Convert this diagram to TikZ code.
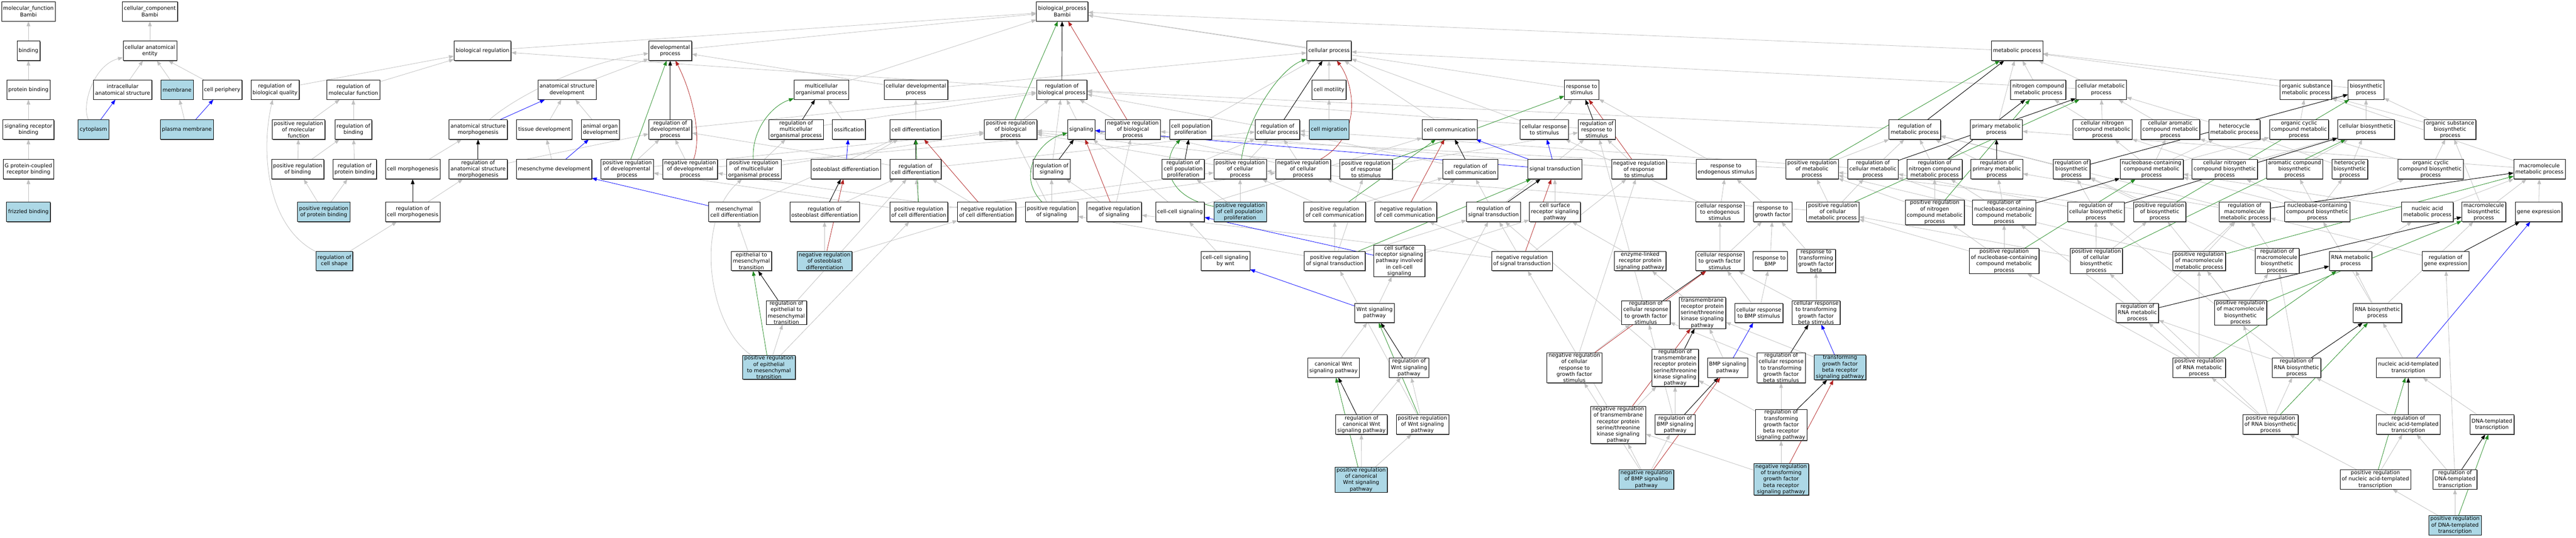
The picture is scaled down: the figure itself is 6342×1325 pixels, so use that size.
\documentclass[tikz,border=0pt]{standalone}
\usepackage{fontspec}
\newfontfamily\gofont{DejaVu Sans}
\usetikzlibrary{arrows.meta,backgrounds,shadows}
\definecolor{isagray}{HTML}{C0C0C0}
\definecolor{partblue}{HTML}{0000FF}
\definecolor{posgreen}{HTML}{228B22}
\definecolor{negred}{HTML}{B22222}
\definecolor{hitblue}{HTML}{ADD8E6}
\begin{document}
\begin{tikzpicture}[x=1bp,y=-1bp,>={Triangle[length=12bp,width=9bp]},
    box/.style={draw=black,line width=1bp,fill=white,align=center,inner xsep=4bp,inner ysep=1bp,
        minimum height=48bp,font=\gofont\fontsize{13.05}{15.6}\selectfont,
        drop shadow={shadow xshift=1.5bp,shadow yshift=-1.5bp,fill=black!65,opacity=1}},
    hit/.style={box,fill=hitblue},
    isa/.style={->,draw=isagray,line width=1bp},
    partof/.style={->,draw=partblue,line width=1bp},
    regul/.style={->,draw=black,line width=1.2bp},
    posreg/.style={->,draw=posgreen,line width=1bp},
    negreg/.style={->,draw=negred,line width=1bp}]
        \useasboundingbox (0,0) rectangle (6342,1325);
        % molecular function
        \node[box] (mf) at (70,28) {molecular\_function\\Bambi};
        \node[box] (bind) at (70,125) {binding};
        \node[box] (pbind) at (70,221) {protein binding};
        \node[box] (srbind) at (70,319) {signaling receptor\\binding};
        \node[box] (gpcrb) at (70,417) {G protein-coupled\\receptor binding};
        \node[hit] (fzb) at (70,522) {frizzled binding};
        % cellular component
        \node[box] (cc) at (369,28) {cellular\_component\\Bambi};
        \node[box] (cae) at (369,125) {cellular anatomical\\entity};
        \node[box] (ias) at (302,221) {intracellular\\anatomical structure};
        \node[hit] (mem) at (436,221) {membrane};
        \node[box] (cper) at (547,221) {cell periphery};
        \node[hit] (cyto) at (230,319) {cytoplasm};
        \node[hit] (pmem) at (460,319) {plasma membrane};
        % biological process, left part
        \node[box] (bp) at (2615,28) {biological\_process\\Bambi};
        \node[box] (breg) at (1188,125) {biological regulation};
        \node[box] (dev) at (1650,125) {developmental\\process};
        \node[box] (rbq) at (677,221) {regulation of\\biological quality};
        \node[box] (rmf) at (870,221) {regulation of\\molecular function};
        \node[box] (asd) at (1396,221) {anatomical structure\\development};
        \node[box] (mop) at (2022,221) {multicellular\\organismal process};
        \node[box] (cdp) at (2255,221) {cellular developmental\\process};
        \node[box] (rbp) at (2614,221) {regulation of\\biological process};
        \node[box] (prmf) at (735,319) {positive regulation\\of molecular\\function};
        \node[box] (rbind) at (870,319) {regulation of\\binding};
        \node[box] (asm) at (1177,319) {anatomical structure\\morphogenesis};
        \node[box] (tisd) at (1340,319) {tissue development};
        \node[box] (aod) at (1478,319) {animal organ\\development};
        \node[box] (rdev) at (1650,319) {regulation of\\developmental\\process};
        \node[box] (rmop) at (1960,319) {regulation of\\multicellular\\organismal process};
        \node[box] (ossif) at (2090,319) {ossification};
        \node[box] (cdiff) at (2254,319) {cell differentiation};
        \node[box] (prbp) at (2488,319) {positive regulation\\of biological\\process};
        \node[box] (sig) at (2662,319) {signaling};
        \node[box] (nrbp) at (2789,319) {negative regulation\\of biological\\process};
        \node[box] (cpp) at (2931,319) {cell population\\proliferation};
        \node[box] (prbind) at (733,417) {positive regulation\\of binding};
        \node[box] (rpbind) at (873,417) {regulation of\\protein binding};
        \node[box] (cmorph) at (1016,417) {cell morphogenesis};
        \node[box] (rasm) at (1177,417) {regulation of\\anatomical structure\\morphogenesis};
        \node[box] (mesd) at (1364,417) {mesenchyme development};
        \node[box] (prdev) at (1544,417) {positive regulation\\of developmental\\process};
        \node[box] (nrdev) at (1699,417) {negative regulation\\of developmental\\process};
        \node[box] (prmop) at (1856,417) {positive regulation\\of multicellular\\organismal process};
        \node[box] (obd) at (2082,417) {osteoblast differentiation};
        \node[box] (rcdiff) at (2254,417) {regulation of\\cell differentiation};
        \node[box] (rsig) at (2589,417) {regulation of\\signaling};
        \node[box] (rcpp) at (2913,417) {regulation of\\cell population\\proliferation};
        \node[hit] (prpbind) at (797,522) {positive regulation\\of protein binding};
        \node[box] (rcmorph) at (1016,522) {regulation of\\cell morphogenesis};
        \node[box] (mcd) at (1808,522) {mesenchymal\\cell differentiation};
        \node[box] (robd) at (2030,522) {regulation of\\osteoblast differentiation};
        \node[box] (prcdiff) at (2262,522) {positive regulation\\of cell differentiation};
        \node[box] (nrcdiff) at (2429,522) {negative regulation\\of cell differentiation};
        \node[box] (prsig) at (2589,522) {positive regulation\\of signaling};
        \node[box] (nrsig) at (2743,522) {negative regulation\\of signaling};
        \node[box] (ccs) at (2905,522) {cell-cell signaling};
        \node[hit] (rcshape) at (823,643) {regulation of\\cell shape};
        \node[box] (emt) at (1850,643) {epithelial to\\mesenchymal\\transition};
        \node[hit] (nrobd) at (2030,643) {negative regulation\\of osteoblast\\differentiation};
        \node[box] (remt) at (1936,770) {regulation of\\epithelial to\\mesenchymal\\transition};
        \node[hit] (premt) at (1893,905) {positive regulation\\of epithelial\\to mesenchymal\\transition};
        % cellular process and signaling
        \node[box] (cp) at (3272,125) {cellular process};
        \node[box] (cmot) at (3272,221) {cell motility};
        \node[box] (rcp) at (3145,319) {regulation of\\cellular process};
        \node[hit] (cmig) at (3272,319) {cell migration};
        \node[box] (ccomm) at (3569,319) {cell communication};
        \node[box] (prcp) at (3053,417) {positive regulation\\of cellular\\process};
        \node[box] (nrcp) at (3208,417) {negative regulation\\of cellular\\process};
        \node[box] (prrs) at (3363,417) {positive regulation\\of response\\to stimulus};
        \node[box] (rccomm) at (3620,417) {regulation of\\cell communication};
        \node[hit] (prcpp) at (3053,522) {positive regulation\\of cell population\\proliferation};
        \node[box] (prccomm) at (3286,522) {positive regulation\\of cell communication};
        \node[box] (nrccomm) at (3461,522) {negative regulation\\of cell communication};
        \node[box] (ccwnt) at (3017,643) {cell-cell signaling\\by wnt};
        \node[box] (prst) at (3286,643) {positive regulation\\of signal transduction};
        \node[box] (csrccs) at (3445,643) {cell surface\\receptor signaling\\pathway involved\\in cell-cell\\signaling};
        \node[box] (wnt) at (3384,771) {Wnt signaling\\pathway};
        \node[box] (cwnt) at (3283,906) {canonical Wnt\\signaling pathway};
        \node[box] (rwnt) at (3469,906) {regulation of\\Wnt signaling\\pathway};
        \node[box] (rcwnt) at (3352,1046) {regulation of\\canonical Wnt\\signaling pathway};
        \node[box] (prwnt) at (3502,1046) {positive regulation\\of Wnt signaling\\pathway};
        \node[hit] (prcwnt) at (3351,1182) {positive regulation\\of canonical\\Wnt signaling\\pathway};
        % response to stimulus
        \node[box] (rstim) at (3894,221) {response to\\stimulus};
        \node[box] (crstim) at (3802,319) {cellular response\\to stimulus};
        \node[box] (rrstim) at (3931,319) {regulation of\\response to\\stimulus};
        \node[box] (st) at (3828,417) {signal transduction};
        \node[box] (nrrs) at (4035,417) {negative regulation\\of response\\to stimulus};
        \node[box] (rendo) at (4249,417) {response to\\endogenous stimulus};
        \node[box] (rst) at (3677,522) {regulation of\\signal transduction};
        \node[box] (csrsp) at (3828,522) {cell surface\\receptor signaling\\pathway};
        \node[box] (crendo) at (4234,522) {cellular response\\to endogenous\\stimulus};
        \node[box] (rgf) at (4364,522) {response to\\growth factor};
        \node[box] (nrst) at (3747,643) {negative regulation\\of signal transduction};
        \node[box] (elrp) at (4038,643) {enzyme-linked\\receptor protein\\signaling pathway};
        \node[box] (crgf) at (4234,643) {cellular response\\to growth factor\\stimulus};
        \node[box] (rbmp) at (4358,643) {response to\\BMP};
        \node[box] (rtgfb) at (4471,643) {response to\\transforming\\growth factor\\beta};
        \node[box] (rcrgf) at (4052,770) {regulation of\\cellular response\\to growth factor\\stimulus};
        \node[box] (tmrstk) at (4191,771) {transmembrane\\receptor protein\\serine/threonine\\kinase signaling\\pathway};
        \node[box] (crbmp) at (4330,771) {cellular response\\to BMP stimulus};
        \node[box] (crtgfb) at (4471,770) {cellular response\\to transforming\\growth factor\\beta stimulus};
        \node[box] (nrcrgf) at (3876,906) {negative regulation\\of cellular\\response to\\growth factor\\stimulus};
        \node[box] (rtmrstk) at (4124,906) {regulation of\\transmembrane\\receptor protein\\serine/threonine\\kinase signaling\\pathway};
        \node[box] (bmp) at (4253,906) {BMP signaling\\pathway};
        \node[box] (rcrtgfb) at (4385,906) {regulation of\\cellular response\\to transforming\\growth factor\\beta stimulus};
        \node[hit] (tgfbr) at (4530,905) {transforming\\growth factor\\beta receptor\\signaling pathway};
        \node[box] (nrtmrstk) at (3984,1047) {negative regulation\\of transmembrane\\receptor protein\\serine/threonine\\kinase signaling\\pathway};
        \node[box] (rbmpsp) at (4124,1046) {regulation of\\BMP signaling\\pathway};
        \node[box] (rtgfbr) at (4385,1047) {regulation of\\transforming\\growth factor\\beta receptor\\signaling pathway};
        \node[hit] (nrbmp) at (4053,1181) {negative regulation\\of BMP signaling\\pathway};
        \node[hit] (nrtgfbr) at (4385,1181) {negative regulation\\of transforming\\growth factor\\beta receptor\\signaling pathway};
        % metabolic process
        \node[box] (mp) at (4966,125) {metabolic process};
        \node[box] (ncmp) at (5018,221) {nitrogen compound\\metabolic process};
        \node[box] (cmp) at (5173,221) {cellular metabolic\\process};
        \node[box] (osmp) at (5677,221) {organic substance\\metabolic process};
        \node[box] (bsp) at (5825,221) {biosynthetic\\process};
        \node[box] (rmp) at (4714,319) {regulation of\\metabolic process};
        \node[box] (pmp) at (4915,319) {primary metabolic\\process};
        \node[box] (cncmp) at (5176,319) {cellular nitrogen\\compound metabolic\\process};
        \node[box] (cacmp) at (5343,319) {cellular aromatic\\compound metabolic\\process};
        \node[box] (hmp) at (5501,319) {heterocycle\\metabolic process};
        \node[box] (occmp) at (5660,319) {organic cyclic\\compound metabolic\\process};
        \node[box] (cbp) at (5825,319) {cellular biosynthetic\\process};
        \node[box] (osbp) at (6032,319) {organic substance\\biosynthetic\\process};
        \node[box] (prmp) at (4461,417) {positive regulation\\of metabolic\\process};
        \node[box] (rcmp) at (4611,417) {regulation of\\cellular metabolic\\process};
        \node[box] (rncmp) at (4763,417) {regulation of\\nitrogen compound\\metabolic process};
        \node[box] (rpmp) at (4916,417) {regulation of\\primary metabolic\\process};
        \node[box] (rbsp) at (5100,417) {regulation of\\biosynthetic\\process};
        \node[box] (nbcmp) at (5297,417) {nucleobase-containing\\compound metabolic\\process};
        \node[box] (cncbp) at (5477,417) {cellular nitrogen\\compound biosynthetic\\process};
        \node[box] (acbp) at (5649,417) {aromatic compound\\biosynthetic\\process};
        \node[box] (hbp) at (5785,417) {heterocycle\\biosynthetic\\process};
        \node[box] (occbp) at (5984,417) {organic cyclic\\compound biosynthetic\\process};
        \node[box] (mmp) at (6252,417) {macromolecule\\metabolic process};
        \node[box] (prcmp) at (4512,522) {positive regulation\\of cellular\\metabolic process};
        \node[box] (prncmp) at (4763,523) {positive regulation\\of nitrogen\\compound metabolic\\process};
        \node[box] (rnbcmp) at (4934,523) {regulation of\\nucleobase-containing\\compound metabolic\\process};
        \node[box] (rcbp) at (5160,522) {regulation of\\cellular biosynthetic\\process};
        \node[box] (prbsp) at (5317,522) {positive regulation\\of biosynthetic\\process};
        \node[box] (rmmp) at (5526,522) {regulation of\\macromolecule\\metabolic process};
        \node[box] (nbcbp) at (5705,522) {nucleobase-containing\\compound biosynthetic\\process};
        \node[box] (namp) at (5976,522) {nucleic acid\\metabolic process};
        \node[box] (mbp) at (6115,522) {macromolecule\\biosynthetic\\process};
        \node[box] (gexp) at (6250,522) {gene expression};
        \node[box] (prnbcmp) at (4934,643) {positive regulation\\of nucleobase-containing\\compound metabolic\\process};
        \node[box] (prcbp) at (5161,643) {positive regulation\\of cellular\\biosynthetic\\process};
        \node[box] (prmmp) at (5414,643) {positive regulation\\of macromolecule\\metabolic process};
        \node[box] (rmbp) at (5606,643) {regulation of\\macromolecule\\biosynthetic\\process};
        \node[box] (rnamp) at (5787,643) {RNA metabolic\\process};
        \node[box] (rgexp) at (6021,643) {regulation of\\gene expression};
        \node[box] (rrnamp) at (5262,771) {regulation of\\RNA metabolic\\process};
        \node[box] (prmbp) at (5516,770) {positive regulation\\of macromolecule\\biosynthetic\\process};
        \node[box] (rnabp) at (5853,771) {RNA biosynthetic\\process};
        \node[box] (prrnamp) at (5414,906) {positive regulation\\of RNA metabolic\\process};
        \node[box] (rrnabp) at (5654,906) {regulation of\\RNA biosynthetic\\process};
        \node[box] (natt) at (5929,906) {nucleic acid-templated\\transcription};
        \node[box] (prrnabp) at (5590,1046) {positive regulation\\of RNA biosynthetic\\process};
        \node[box] (rnatt) at (5929,1046) {regulation of\\nucleic acid-templated\\transcription};
        \node[box] (dtt) at (6135,1046) {DNA-templated\\transcription};
        \node[box] (prnatt) at (5848,1181) {positive regulation\\of nucleic acid-templated\\transcription};
        \node[box] (rdtt) at (6044,1181) {regulation of\\DNA-templated\\transcription};
        \node[hit] (prdtt) at (6044,1294) {positive regulation\\of DNA-templated\\transcription};
        \begin{scope}[on background layer]
            \fill[white] (0,0) rectangle (6342,1325);
            % is_a
            \foreach \a/\b in {bind/mf,pbind/bind,srbind/pbind,gpcrb/srbind,fzb/gpcrb,
                cae/cc,ias/cae,mem/cae,cper/cae,pmem/mem,
                rbq/breg,rmf/breg,prmf/rmf,rbind/rmf,prbind/prmf,prbind/rbind,rpbind/rbind,
                prpbind/prbind,prpbind/rpbind,rcshape/rcmorph,cmorph/asm,rcmorph/rasm,
                breg/bp,dev/bp,mop/bp,rbp/breg,asd/dev,tisd/asd,aod/asd,mesd/tisd,
                rasm/rdev,prdev/rdev,nrdev/rdev,rdev/rbp,cdp/dev,cdp/cp,cdiff/cdp,ossif/mop,
                rmop/rbp,prmop/rmop,prmop/prbp,obd/cdiff,robd/rcdiff,nrobd/robd,nrobd/nrcdiff,
                mcd/cdiff,emt/mcd,remt/rcdiff,premt/remt,premt/prcdiff,
                rcdiff/rdev,rcdiff/rcp,prcdiff/rcdiff,prcdiff/prdev,prcdiff/prcp,
                nrcdiff/rcdiff,nrcdiff/nrdev,nrcdiff/nrcp,prdev/prbp,nrdev/nrbp,
                prbp/rbp,nrbp/rbp,sig/rbp,rsig/rbp,prsig/rsig,prsig/prbp,nrsig/rsig,nrsig/nrbp,
                ccs/sig,ccs/ccomm,
                cp/bp,rstim/bp,mp/bp,cmot/cp,cmig/cmot,prcp/rcp,nrcp/rcp,rcp/rbp,prcp/prbp,
                nrcp/nrbp,cpp/cp,rcpp/rcp,prcpp/rcpp,prcpp/prcp,ccomm/cp,crstim/cp,crstim/rstim,
                rrstim/rbp,nrrs/rrstim,nrrs/nrbp,prrs/rrstim,prrs/prbp,rccomm/rcp,
                prccomm/rccomm,prccomm/prcp,nrccomm/rccomm,nrccomm/nrcp,ccwnt/ccs,
                csrccs/csrsp,wnt/csrccs,cwnt/wnt,rcwnt/rwnt,prcwnt/rcwnt,prcwnt/prwnt,
                prwnt/rwnt,prwnt/prst,rwnt/rst,prst/prccomm,prst/prrs,prst/prsig,prst/rst,
                nrst/nrsig,csrsp/st,rst/rccomm,rst/rrstim,nrst/rst,nrst/nrccomm,nrst/nrrs,
                elrp/csrsp,tmrstk/elrp,rtmrstk/rst,nrtmrstk/rtmrstk,nrtmrstk/nrst,bmp/tmrstk,
                rbmpsp/rtmrstk,rbmpsp/rcrgf,nrbmp/rbmpsp,nrbmp/nrtmrstk,nrbmp/nrcrgf,
                rendo/rstim,crendo/rendo,crendo/crstim,crgf/crendo,crgf/rgf,rcrgf/rrstim,
                nrcrgf/rcrgf,nrcrgf/nrrs,rgf/rendo,rbmp/rgf,rtgfb/rgf,crbmp/rbmp,crbmp/crgf,
                crtgfb/rtgfb,crtgfb/crgf,rcrtgfb/rcrgf,tgfbr/tmrstk,rtgfbr/rcrtgfb,
                rtgfbr/rtmrstk,nrtgfbr/rtgfbr,nrtgfbr/nrtmrstk,
                ncmp/mp,cmp/mp,cmp/cp,pmp/mp,osmp/mp,bsp/mp,rmp/rbp,prmp/rmp,prmp/prbp,
                rcmp/rmp,rcmp/rcp,rncmp/rmp,rpmp/rmp,prcmp/prmp,prcmp/rcmp,prcmp/prcp,
                prncmp/rncmp,prncmp/prmp,rnbcmp/rncmp,rnbcmp/rpmp,rnbcmp/rcmp,
                prnbcmp/rnbcmp,prnbcmp/prncmp,prnbcmp/prcmp,
                cncmp/cmp,cncmp/ncmp,cacmp/cmp,hmp/cmp,occmp/osmp,nbcmp/cncmp,nbcmp/cacmp,
                nbcmp/hmp,nbcmp/occmp,cncbp/cncmp,cncbp/cbp,acbp/cacmp,acbp/cbp,hbp/hmp,
                hbp/cbp,occbp/occmp,occbp/osbp,cbp/bsp,osbp/bsp,osbp/osmp,rbsp/rmp,
                rcbp/rbsp,rcbp/rcmp,prbsp/rbsp,prbsp/prmp,rmmp/rmp,rmmp/rpmp,nbcbp/nbcmp,
                nbcbp/cncbp,nbcbp/acbp,nbcbp/hbp,nbcbp/occbp,namp/nbcmp,namp/mmp,mmp/pmp,
                mmp/osmp,mbp/mmp,mbp/osbp,gexp/mmp,prcbp/rcbp,prcbp/prbsp,prcbp/prcmp,
                prmmp/rmmp,prmmp/prmp,rmbp/rmmp,rmbp/rbsp,rnamp/namp,rgexp/rmmp,
                rrnamp/rnbcmp,rrnamp/rmmp,prmbp/prmmp,prmbp/rmbp,prmbp/prbsp,rnabp/rnamp,
                rnabp/nbcbp,rnabp/mbp,prrnamp/rrnamp,prrnamp/prmmp,prrnamp/prnbcmp,
                rrnabp/rmbp,rrnabp/rrnamp,rrnabp/rcbp,natt/rnabp,prrnabp/rrnabp,
                prrnabp/prrnamp,prrnabp/prmbp,prrnabp/prcbp,rnatt/rrnabp,dtt/natt,
                prnatt/rnatt,prnatt/prrnabp,rdtt/rnatt,rdtt/rgexp,prdtt/rdtt,prdtt/prnatt}
                {
                    \draw[isa] (\a) -- (\b);
                }
            % the few curved ones
            \draw[isa] (cyto) .. controls (200,260) and (230,160) .. (cae);
            \draw[isa] (rcshape) .. controls (660,560) and (640,380) .. (rbq);
            \draw[isa] (asm) .. controls (1280,230) and (1450,150) .. (dev);
            \draw[isa] (premt) .. controls (1740,800) and (1710,540) .. (prmop);
            % part_of
            \foreach \a/\b in {cyto/ias,pmem/cper,asm/asd,mesd/aod,obd/ossif,mcd/mesd,
                st/crstim,st/sig,st/ccomm,csrccs/ccs,wnt/ccwnt,bmp/crbmp,tgfbr/crtgfb,natt/gexp}
                {
                    \draw[partof] (\a) -- (\b);
                }
            % regulates
            \foreach \a/\b in {rcmorph/cmorph,rasm/asm,rdev/dev,rmop/mop,robd/obd,remt/emt,
                rcdiff/cdiff,rsig/sig,rcpp/cpp,rbp/bp,rcp/cp,rrstim/rstim,rst/st,rccomm/ccomm,
                rwnt/wnt,rcwnt/cwnt,rcrgf/crgf,rtmrstk/tmrstk,rbmpsp/bmp,rcrtgfb/crtgfb,
                rtgfbr/tgfbr,rmp/mp,rcmp/cmp,rncmp/ncmp,rpmp/pmp,rbsp/bsp,rcbp/cbp,rmmp/mmp,
                rmbp/mbp,rrnamp/rnamp,rrnabp/rnabp,rgexp/gexp,rnatt/natt,rdtt/dtt,rnbcmp/nbcmp}
                {
                    \draw[regul] (\a) -- (\b);
                }
            % positively regulates
            \foreach \a/\b in {prdev/dev,premt/emt,prcdiff/cdiff,prbp/bp,
                prrs/rstim,prccomm/ccomm,prst/st,prcwnt/cwnt,prwnt/wnt,
                prmp/mp,prcmp/cmp,prncmp/ncmp,prnbcmp/nbcmp,prbsp/bsp,prcbp/cbp,prmmp/mmp,
                prmbp/mbp,prrnamp/rnamp,prrnabp/rnabp,prnatt/natt,prdtt/dtt}
                {
                    \draw[posreg] (\a) -- (\b);
                }
            \draw[posreg] (prmop) .. controls (1850,320) and (1900,260) .. (mop);
            \draw[posreg] (prsig) .. controls (2500,430) and (2560,345) .. (sig);
            \draw[posreg] (prcpp) .. controls (2850,480) and (2870,380) .. (cpp);
            \draw[posreg] (prcp) .. controls (3070,290) and (3150,170) .. (cp);
            % negatively regulates
            \foreach \a/\b in {nrobd/obd,nrcdiff/cdiff,nrbp/bp,nrsig/sig,
                nrrs/rstim,nrccomm/ccomm,nrst/st,nrcrgf/crgf,nrtmrstk/tmrstk,nrbmp/bmp,
                nrtgfbr/tgfbr}
                {
                    \draw[negreg] (\a) -- (\b);
                }
            \draw[negreg] (nrdev) .. controls (1730,330) and (1700,220) .. (dev);
            \draw[negreg] (nrcp) .. controls (3360,330) and (3330,200) .. (cp);
        \end{scope}
    \end{tikzpicture}
\end{document}
